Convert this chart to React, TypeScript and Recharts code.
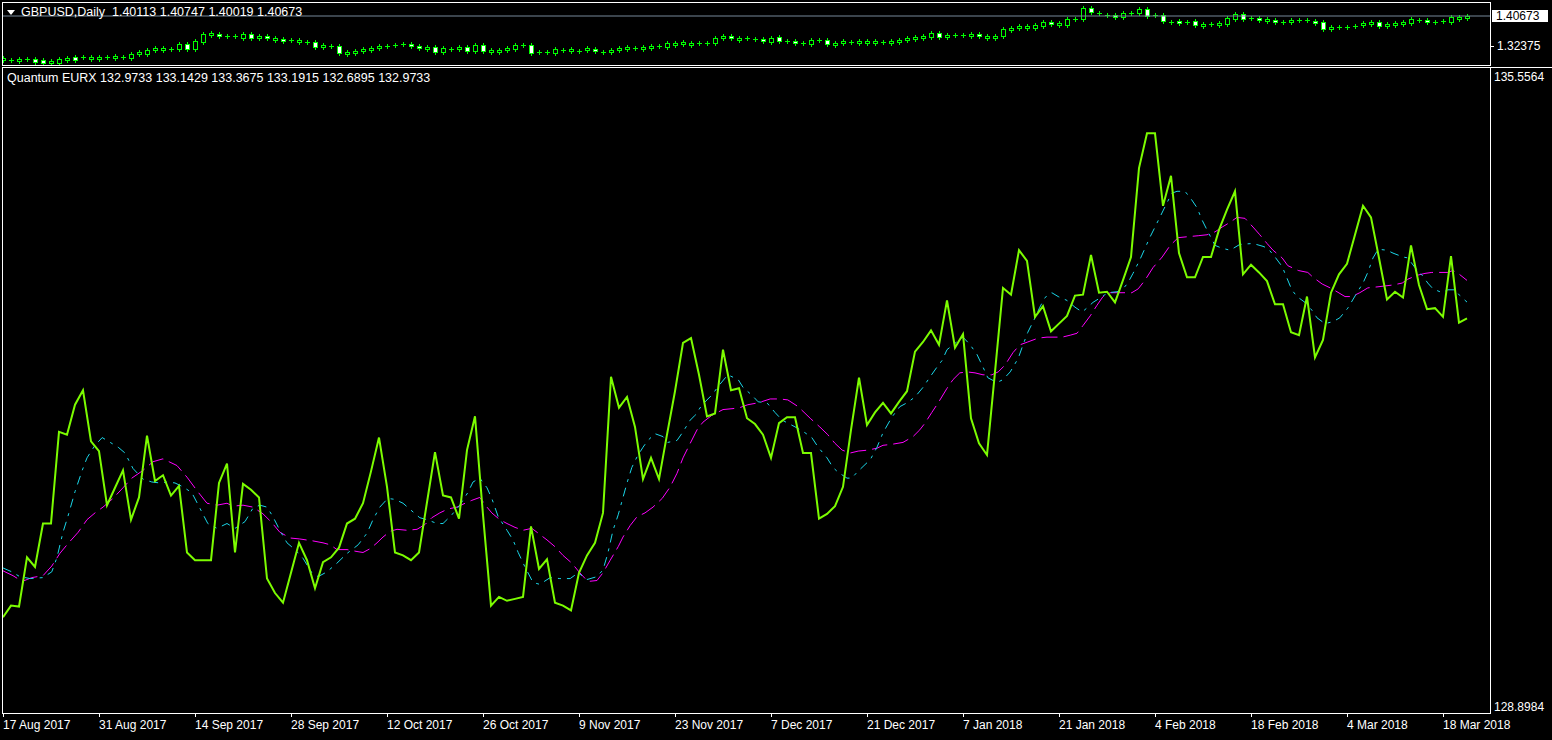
import { ComposedChart, Line, Bar, XAxis, YAxis, ReferenceLine } from 'recharts'

// bar index 0 = 17 Aug 2017, one bar per day incl. Sunday sessions
const dateTicks = [0, 12, 24, 36, 48, 60, 72, 84, 96, 108, 120, 132, 144, 156, 168, 180]
const dateLabels = [
  '17 Aug 2017', '31 Aug 2017', '14 Sep 2017', '28 Sep 2017', '12 Oct 2017', '26 Oct 2017',
  '9 Nov 2017', '23 Nov 2017', '7 Dec 2017', '21 Dec 2017', '7 Jan 2018', '21 Jan 2018',
  '4 Feb 2018', '18 Feb 2018', '4 Mar 2018', '18 Mar 2018',
]

const gbpOpen = [
  1.2850, 1.2850, 1.2823, 1.2878, 1.2878, 1.2850, 1.2767, 1.2767, 1.2850, 1.2933,
  1.2933, 1.2878, 1.2878, 1.2933, 1.2906, 1.2933, 1.2906, 1.3016, 1.3016, 1.3127,
  1.3127, 1.3155, 1.3155, 1.3293, 1.3155, 1.3348, 1.3542, 1.3570, 1.3514, 1.3514,
  1.3459, 1.3570, 1.3459, 1.3514, 1.3404, 1.3431, 1.3404, 1.3348, 1.3348, 1.3348,
  1.3210, 1.3238, 1.3238, 1.3016, 1.3044, 1.3099, 1.3127, 1.3182, 1.3238, 1.3265,
  1.3293, 1.3293, 1.3238, 1.3155, 1.3210, 1.3072, 1.3155, 1.3155, 1.3210, 1.3099,
  1.3265, 1.3072, 1.3072, 1.3127, 1.3155, 1.3265, 1.3265, 1.3072, 1.3072, 1.3044,
  1.3127, 1.3099, 1.3099, 1.3127, 1.3155, 1.3072, 1.3072, 1.3127, 1.3155, 1.3182,
  1.3155, 1.3182, 1.3238, 1.3210, 1.3265, 1.3293, 1.3265, 1.3321, 1.3321, 1.3321,
  1.3459, 1.3514, 1.3404, 1.3459, 1.3431, 1.3431, 1.3348, 1.3487, 1.3376, 1.3376,
  1.3321, 1.3293, 1.3404, 1.3404, 1.3265, 1.3321, 1.3348, 1.3321, 1.3321, 1.3321,
  1.3348, 1.3321, 1.3348, 1.3404, 1.3431, 1.3459, 1.3487, 1.3597, 1.3487, 1.3542,
  1.3542, 1.3514, 1.3570, 1.3459, 1.3459, 1.3514, 1.3680, 1.3736, 1.3736, 1.3736,
  1.3791, 1.3901, 1.3819, 1.3819, 1.3984, 1.3984, 1.4289, 1.4150, 1.4095, 1.4095,
  1.4040, 1.4150, 1.4150, 1.4261, 1.4095, 1.4095, 1.3901, 1.3929, 1.3901, 1.3929,
  1.3791, 1.3846, 1.3819, 1.3846, 1.3984, 1.4123, 1.4012, 1.4012, 1.3929, 1.3957,
  1.3901, 1.3901, 1.3957, 1.3957, 1.3929, 1.3901, 1.3708, 1.3763, 1.3763, 1.3791,
  1.3819, 1.3846, 1.3901, 1.3791, 1.3819, 1.3846, 1.3874, 1.3957, 1.3957, 1.3901,
  1.3929, 1.3901, 1.3984, 1.40113,
]
const gbpClose = [
  1.2906, 1.2850, 1.2878, 1.2878, 1.2795, 1.2767, 1.2823, 1.2878, 1.2906, 1.2850,
  1.2933, 1.2933, 1.2933, 1.2933, 1.2961, 1.2933, 1.3016, 1.3072, 1.3127, 1.3182,
  1.3182, 1.3155, 1.3293, 1.3155, 1.3376, 1.3570, 1.3597, 1.3514, 1.3514, 1.3514,
  1.3570, 1.3459, 1.3514, 1.3459, 1.3459, 1.3376, 1.3404, 1.3404, 1.3348, 1.3210,
  1.3265, 1.3238, 1.3044, 1.3072, 1.3099, 1.3155, 1.3182, 1.3238, 1.3238, 1.3265,
  1.3293, 1.3238, 1.3182, 1.3210, 1.3072, 1.3182, 1.3155, 1.3210, 1.3099, 1.3265,
  1.3099, 1.3127, 1.3127, 1.3182, 1.3265, 1.3265, 1.3044, 1.3072, 1.3072, 1.3155,
  1.3127, 1.3155, 1.3099, 1.3182, 1.3099, 1.3072, 1.3127, 1.3182, 1.3210, 1.3182,
  1.3210, 1.3238, 1.3238, 1.3321, 1.3321, 1.3348, 1.3321, 1.3321, 1.3321, 1.3459,
  1.3514, 1.3459, 1.3459, 1.3459, 1.3431, 1.3376, 1.3459, 1.3376, 1.3376, 1.3321,
  1.3321, 1.3404, 1.3404, 1.3293, 1.3321, 1.3376, 1.3348, 1.3376, 1.3376, 1.3376,
  1.3348, 1.3376, 1.3404, 1.3459, 1.3487, 1.3514, 1.3597, 1.3487, 1.3542, 1.3542,
  1.3542, 1.3570, 1.3514, 1.3514, 1.3514, 1.3708, 1.3736, 1.3791, 1.3791, 1.3819,
  1.3901, 1.3846, 1.3874, 1.3984, 1.3984, 1.4289, 1.4178, 1.4150, 1.4095, 1.4040,
  1.4150, 1.4150, 1.4261, 1.4067, 1.4095, 1.3929, 1.3901, 1.3874, 1.3901, 1.3819,
  1.3846, 1.3846, 1.3874, 1.4012, 1.4123, 1.3984, 1.4012, 1.3957, 1.3984, 1.3901,
  1.3901, 1.3957, 1.3957, 1.3957, 1.3874, 1.3708, 1.3763, 1.3763, 1.3763, 1.3791,
  1.3874, 1.3901, 1.3791, 1.3846, 1.3874, 1.3901, 1.3984, 1.3957, 1.3901, 1.3901,
  1.3929, 1.4040, 1.4040, 1.40673,
]

const quantum = [
  129.88, 130.00, 129.99, 130.50, 130.40, 130.85, 130.85, 131.80, 131.77, 132.08,
  132.23, 131.70, 131.60, 131.04, 131.22, 131.40, 130.89, 131.12, 131.76, 131.29,
  131.35, 131.14, 131.24, 130.55, 130.47, 130.47, 130.47, 131.27, 131.47, 130.55,
  131.26, 131.20, 131.12, 130.28, 130.13, 130.03, 130.34, 130.65, 130.47, 130.18,
  130.45, 130.50, 130.60, 130.85, 130.90, 131.06, 131.39, 131.74, 131.23, 130.55,
  130.52, 130.47, 130.55, 131.07, 131.59, 131.14, 131.12, 130.90, 131.61, 131.96,
  130.94, 130.00, 130.09, 130.05, 130.07, 130.09, 130.82, 130.38, 130.48, 130.03,
  130.00, 129.95, 130.34, 130.52, 130.65, 130.96, 132.37, 132.05, 132.16, 131.85,
  131.31, 131.53, 131.31, 131.77, 132.22, 132.72, 132.77, 132.39, 131.96, 131.99,
  132.65, 132.23, 132.25, 131.94, 131.88, 131.77, 131.53, 131.89, 131.95, 131.95,
  131.58, 131.58, 130.90, 130.95, 131.03, 131.23, 131.82, 132.36, 131.87, 132.00,
  132.10, 131.99, 132.11, 132.22, 132.63, 132.73, 132.85, 132.70, 133.16, 132.67,
  132.81, 131.94, 131.68, 131.56, 132.42, 133.29, 133.22, 133.68, 133.57, 132.99,
  133.10, 132.84, 132.92, 133.00, 133.21, 133.22, 133.63, 133.24, 133.25, 133.14,
  133.37, 133.61, 134.53, 134.89, 134.89, 134.14, 134.45, 133.65, 133.40, 133.40,
  133.61, 133.61, 133.89, 134.10, 134.29, 133.43, 133.53, 133.45, 133.36, 133.12,
  133.12, 132.83, 132.80, 133.20, 132.57, 132.75, 133.24, 133.43, 133.54, 133.84,
  134.14, 134.02, 133.60, 133.17, 133.25, 133.19, 133.73, 133.32, 133.07, 133.08,
  132.99, 133.62, 132.93, 132.9733,
]

// [bar, value]
const signalCyan: [number, number][] = [
  [0, 130.39], [1.1, 130.35], [2.1, 130.30], [3.4, 130.28], [5, 130.29], [6.1, 130.35], [6.75, 130.50], [7.5, 130.76],
  [8.1, 130.92], [9, 131.18], [9.9, 131.40], [10.5, 131.53], [11.5, 131.66], [12.4, 131.74], [13.4, 131.69], [14.4, 131.64],
  [15.25, 131.58], [16.25, 131.42], [17.5, 131.31], [18.6, 131.28], [19.6, 131.27], [20.6, 131.28], [21.5, 131.27], [22.5, 131.23],
  [23.6, 131.17], [24.6, 131.01], [25.6, 130.85], [26.75, 130.80], [28, 130.85], [29, 130.80], [30.25, 130.87], [31.25, 131.01],
  [32.1, 131.04], [33, 131.02], [33.75, 130.92], [34.6, 130.78], [35.5, 130.65], [36.5, 130.58], [37.5, 130.49], [38.6, 130.34],
  [39.4, 130.30], [40.5, 130.35], [41.75, 130.44], [43, 130.54], [44.4, 130.63], [45.5, 130.75], [46.25, 130.89], [47.1, 131.02],
  [48.1, 131.11], [49, 131.10], [50, 131.06], [51.25, 130.97], [52.1, 130.91], [53, 130.89], [54.25, 130.85], [55, 130.85],
  [56.1, 130.94], [57.1, 131.04], [58.1, 131.17], [58.75, 131.28], [59.6, 131.32], [60.5, 131.22], [61.1, 131.11], [61.9, 130.92],
  [63, 130.78], [63.75, 130.68], [64.4, 130.55], [65.25, 130.40], [66.25, 130.24], [67.1, 130.22], [68.4, 130.29], [69.6, 130.28],
  [70.9, 130.28], [71.9, 130.34], [73, 130.27], [74.25, 130.30], [75, 130.37], [75.6, 130.54], [76.25, 130.78], [76.9, 130.94],
  [77.4, 131.09], [78, 131.27], [78.6, 131.43], [79.25, 131.54], [80, 131.64], [80.6, 131.71], [81.5, 131.78], [82.5, 131.75],
  [83.1, 131.69], [84.25, 131.71], [85, 131.80], [85.9, 131.92], [86.5, 131.97], [87.4, 132.08], [88.6, 132.18], [89.6, 132.29],
  [90.6, 132.39], [91.9, 132.34], [92.5, 132.26], [93.6, 132.18], [94.4, 132.11], [95.5, 132.10], [96.5, 132.00], [97.4, 131.92],
  [98.1, 131.89], [99.25, 131.84], [100.25, 131.79], [101.1, 131.74], [101.9, 131.64], [103, 131.53], [103.75, 131.43], [104.4, 131.38],
  [105.5, 131.32], [106.1, 131.32], [106.75, 131.38], [107.75, 131.46], [108.4, 131.51], [109.25, 131.64], [110, 131.79], [111.1, 131.95],
  [112.1, 132.06], [113, 132.10], [114, 132.16], [115, 132.26], [115.9, 132.37], [116.75, 132.47], [117.4, 132.54], [118, 132.65],
  [118.75, 132.70], [120, 132.78], [120.9, 132.70], [121.75, 132.60], [122.5, 132.47], [123.1, 132.36], [124.25, 132.31], [125, 132.34],
  [125.9, 132.42], [126.9, 132.56], [127.5, 132.70], [128.1, 132.83], [129, 132.98], [129.6, 133.09], [130.25, 133.19], [131.1, 133.24],
  [131.9, 133.20], [133, 133.16], [134, 133.09], [134.9, 133.04], [135.6, 133.09], [136.25, 133.14], [137.4, 133.20], [138.1, 133.24],
  [139.25, 133.25], [139.9, 133.27], [140.6, 133.34], [141.25, 133.44], [142.1, 133.58], [142.75, 133.70], [143.4, 133.82], [144, 133.92],
  [144.6, 134.02], [145.25, 134.13], [146.1, 134.27], [146.75, 134.29], [147.75, 134.29], [148.6, 134.20], [149.25, 134.12], [149.9, 133.99],
  [150.5, 133.89], [151.5, 133.73], [152.4, 133.70], [153.4, 133.68], [154.6, 133.74], [156.25, 133.75], [157.5, 133.72], [158.1, 133.70],
  [159, 133.61], [159.9, 133.51], [160.5, 133.39], [161.1, 133.27], [161.75, 133.20], [162.75, 133.14], [163.6, 133.06], [164.25, 132.98],
  [165.25, 132.92], [166.25, 132.94], [167.1, 132.98], [168.1, 133.08], [169.25, 133.24], [170, 133.34], [170.6, 133.45], [171.25, 133.60],
  [171.9, 133.69], [173, 133.68], [173.75, 133.65], [175, 133.61], [175.6, 133.60], [176.5, 133.50], [177.4, 133.42], [178.1, 133.34],
  [178.75, 133.28], [179.9, 133.24], [180.6, 133.27], [181.5, 133.27], [182.1, 133.21], [183, 133.1429],
]
const signalMagenta: [number, number][] = [
  [0, 130.36], [1.25, 130.31], [2.4, 130.25], [3.6, 130.29], [5, 130.31], [6.1, 130.41], [7.1, 130.54], [8.1, 130.64],
  [9.4, 130.76], [10.5, 130.89], [11.5, 130.96], [12.5, 131.02], [13.75, 131.11], [15, 131.22], [16.1, 131.32], [17.5, 131.40],
  [18.75, 131.49], [20, 131.52], [21.75, 131.45], [23, 131.33], [24.25, 131.19], [25.5, 131.06], [26.75, 131.04], [28, 131.06],
  [28.75, 131.03], [30, 131.04], [31.25, 131.02], [32.5, 130.95], [33.6, 130.86], [34.6, 130.76], [35.9, 130.70], [37.1, 130.69],
  [38.75, 130.67], [40, 130.65], [40.9, 130.63], [41.75, 130.58], [43, 130.58], [44.25, 130.56], [45, 130.55], [45.9, 130.59],
  [46.75, 130.65], [47.5, 130.71], [48.4, 130.77], [49.25, 130.79], [50.5, 130.78], [51.75, 130.79], [52.75, 130.84], [53.6, 130.91],
  [54.6, 130.96], [55.6, 131.00], [56.75, 131.02], [57.5, 131.05], [58.6, 131.09], [59.6, 131.12], [60.5, 131.02], [61.1, 130.96],
  [62.1, 130.89], [63, 130.85], [64, 130.81], [65, 130.78], [66.1, 130.80], [66.9, 130.75], [68, 130.68], [69, 130.61],
  [70, 130.52], [71.1, 130.44], [72.1, 130.34], [73.1, 130.25], [74.25, 130.26], [75, 130.34], [75.9, 130.47], [76.9, 130.61],
  [77.5, 130.71], [78.4, 130.83], [79.25, 130.92], [80.25, 130.96], [81.25, 131.02], [82.4, 131.11], [83.4, 131.23], [84.25, 131.37],
  [85, 131.53], [85.9, 131.68], [86.75, 131.82], [87.5, 131.90], [88.6, 131.97], [90, 132.03], [91.25, 132.04], [92.1, 132.05],
  [93.1, 132.08], [94.4, 132.10], [95.9, 132.14], [97.1, 132.14], [98.1, 132.13], [99.4, 132.06], [100.9, 131.94], [102.1, 131.85],
  [103.1, 131.77], [104, 131.68], [104.9, 131.61], [105.9, 131.58], [106.9, 131.60], [108.1, 131.61], [109.25, 131.63], [110, 131.66],
  [111.1, 131.67], [112.5, 131.69], [113.75, 131.75], [114.6, 131.82], [115.25, 131.89], [116.1, 132.00], [116.9, 132.10], [118, 132.25],
  [118.75, 132.34], [119.6, 132.41], [120.5, 132.42], [121.5, 132.41], [122.5, 132.39], [123.6, 132.39], [124.4, 132.42], [125.25, 132.49],
  [126.25, 132.62], [127.1, 132.70], [128.1, 132.73], [129.4, 132.77], [130.5, 132.78], [131.25, 132.78], [132.4, 132.78], [133.4, 132.80],
  [134.25, 132.82], [135, 132.90], [135.9, 133.00], [136.75, 133.11], [137.5, 133.20], [138.4, 133.24], [139.4, 133.24], [140.25, 133.24],
  [141.1, 133.24], [141.9, 133.28], [142.75, 133.37], [143.75, 133.50], [144.9, 133.61], [145.9, 133.73], [146.9, 133.81], [148.1, 133.82],
  [149.4, 133.83], [150.5, 133.84], [151.5, 133.87], [152.4, 133.92], [153.4, 133.97], [154.25, 134.02], [155.25, 134.01], [156.25, 133.92],
  [157.1, 133.84], [158, 133.75], [158.75, 133.68], [159.9, 133.60], [160.6, 133.52], [161.9, 133.47], [163.1, 133.45], [163.75, 133.40],
  [164.9, 133.33], [165.9, 133.29], [166.75, 133.25], [167.75, 133.20], [168.6, 133.20], [169.6, 133.24], [170.6, 133.29], [171.75, 133.30],
  [172.75, 133.31], [173.75, 133.32], [174.9, 133.34], [175.6, 133.38], [176.75, 133.42], [177.75, 133.44], [178.6, 133.45], [179.6, 133.45],
  [180.6, 133.45], [181.25, 133.47], [181.9, 133.44], [183, 133.3675],
]

const valueMax = 135.5564
const valueMin = 128.8984
const bidPrice = 1.40673
const priceTicks = [1.32375]

const FONT = "'Liberation Sans', Arial, sans-serif"
const BAR_DOMAIN: [number, number] = [0, 185.875]
const PRICE_DOMAIN: [number, number] = [1.2712, 1.4427]
const WICK = 0.0055

const candles = gbpOpen.map((open, i) => ({ bar: i, open, close: gbpClose[i] }))
const quantumRows = quantum.map((v, i) => ({ bar: i, v }))
const cyanRows = signalCyan.map(([bar, v]) => ({ bar, v }))
const magentaRows = signalMagenta.map(([bar, v]) => ({ bar, v }))

function Candle(props: any) {
  const { x, y, width, height, payload } = props
  if (!payload || height == null) return null
  const { open, close } = payload
  const hi = Math.max(open, close) + WICK
  const lo = Math.min(open, close) - WICK
  const k = height / (hi - lo)
  const cx = Math.round(x + width / 2)
  const top = Math.round(y + WICK * k)
  const bot = Math.round(y + height - WICK * k)
  const wick = <line x1={cx + 0.5} x2={cx + 0.5} y1={Math.round(y)} y2={Math.round(y + height) + 1} stroke="#00ff00" />
  if (bot - top < 1) {
    return (
      <g>
        {wick}
        <line x1={cx - 2} x2={cx + 3} y1={top + 0.5} y2={top + 0.5} stroke="#00ff00" />
      </g>
    )
  }
  return (
    <g>
      {wick}
      <rect x={cx - 1.5} y={top + 0.5} width={4} height={bot - top} fill={close >= open ? '#000' : '#fff'} stroke="#00ff00" />
    </g>
  )
}

function PriceTag(props: any) {
  const vb = props.viewBox
  if (!vb) return null
  return (
    <g>
      <rect x={1492} y={vb.y - 6} width={56} height={12} fill="#fff" />
      <text x={1496} y={vb.y + 4} fill="#000" fontSize={12} fontFamily={FONT}>{bidPrice.toFixed(5)}</text>
    </g>
  )
}

function PriceTick({ y, payload }: any) {
  return (
    <g>
      <line x1={1491} x2={1494} y1={y + 0.5} y2={y + 0.5} stroke="#fff" />
      <text x={1497} y={y + 4} fill="#fff" fontSize={12} fontFamily={FONT}>{payload.value.toFixed(5)}</text>
    </g>
  )
}

function ValueTick({ y, payload }: any) {
  const isTop = payload.value === valueMax
  return (
    <text x={1494} y={isTop ? y + 12 : y - 1} fill="#fff" fontSize={12} fontFamily={FONT}>
      {payload.value.toFixed(4)}
    </text>
  )
}

function DateTick({ x, payload }: any) {
  const label = dateLabels[dateTicks.indexOf(payload.value)]
  return (
    <g>
      <line x1={x + 0.5} x2={x + 0.5} y1={713} y2={717} stroke="#fff" />
      <text x={x} y={729} fill="#fff" fontSize={12} fontFamily={FONT}>{label}</text>
    </g>
  )
}

export default function App() {
  return (
    <div style={{ position: 'fixed', left: 0, top: 0, width: 1552, height: 740, background: '#000', overflow: 'hidden' }}>
      {/* price window */}
      <div style={{ position: 'absolute', left: 0, top: 0 }}>
        <ComposedChart width={1552} height={65} data={candles} margin={{ top: 3, right: 0, bottom: 0, left: 3 }}>
          <XAxis dataKey="bar" type="number" domain={BAR_DOMAIN} hide allowDataOverflow />
          <YAxis
            orientation="right"
            width={62}
            domain={PRICE_DOMAIN}
            ticks={priceTicks}
            interval={0}
            axisLine={false}
            tickLine={false}
            tick={<PriceTick />}
            allowDataOverflow
          />
          <ReferenceLine y={bidPrice} stroke="#778899" label={<PriceTag />} />
          <Bar
            dataKey={(d: any) => [Math.min(d.open, d.close) - WICK, Math.max(d.open, d.close) + WICK]}
            barSize={5}
            shape={<Candle />}
            isAnimationActive={false}
          />
        </ComposedChart>
      </div>

      {/* indicator window */}
      <div style={{ position: 'absolute', left: 0, top: 0 }}>
        <ComposedChart width={1552} height={740} data={quantumRows} margin={{ top: 69, right: 0, bottom: 0, left: 3 }}>
          <XAxis
            dataKey="bar"
            type="number"
            domain={BAR_DOMAIN}
            ticks={dateTicks}
            interval={0}
            height={28}
            axisLine={false}
            tickLine={false}
            tick={<DateTick />}
            allowDataOverflow
          />
          <YAxis
            orientation="right"
            width={62}
            domain={[valueMin, valueMax]}
            ticks={[valueMax, valueMin]}
            interval={0}
            axisLine={false}
            tickLine={false}
            tick={<ValueTick />}
            allowDataOverflow
          />
          <Line
            data={magentaRows}
            dataKey="v"
            stroke="#ff00ff"
            strokeWidth={1}
            strokeDasharray="16 6"
            dot={false}
            activeDot={false}
            isAnimationActive={false}
          />
          <Line
            data={cyanRows}
            dataKey="v"
            stroke="#1ad6e8"
            strokeWidth={1}
            strokeDasharray="9 6 3 6"
            dot={false}
            activeDot={false}
            isAnimationActive={false}
          />
          <Line
            dataKey="v"
            stroke="#7cfc00"
            strokeWidth={2}
            dot={false}
            activeDot={false}
            isAnimationActive={false}
          />
        </ComposedChart>
      </div>

      {/* window frames */}
      <div style={{ position: 'absolute', left: 2, top: 2, width: 1489, height: 64, border: '1px solid #fff', boxSizing: 'border-box' }} />
      <div style={{ position: 'absolute', left: 2, top: 67, width: 1550, height: 1, background: '#fff' }} />
      <div style={{ position: 'absolute', left: 2, top: 67, width: 1489, height: 647, borderLeft: '1px solid #fff', borderRight: '1px solid #fff', borderBottom: '1px solid #fff', boxSizing: 'border-box' }} />

      {/* window titles */}
      <div style={{ position: 'absolute', left: 7, top: 10, width: 0, height: 0, borderLeft: '4px solid transparent', borderRight: '4px solid transparent', borderTop: '5px solid #fff' }} />
      <div style={{ position: 'absolute', left: 21, top: 5, color: '#fff', font: `12.5px/14px ${FONT}`, whiteSpace: 'pre' }}>
        GBPUSD,Daily  1.40113 1.40747 1.40019 1.40673
      </div>
      <div style={{ position: 'absolute', left: 7, top: 71, color: '#fff', font: `12.5px/14px ${FONT}`, whiteSpace: 'pre' }}>
        Quantum EURX 132.9733 133.1429 133.3675 133.1915 132.6895 132.9733
      </div>
    </div>
  )
}
